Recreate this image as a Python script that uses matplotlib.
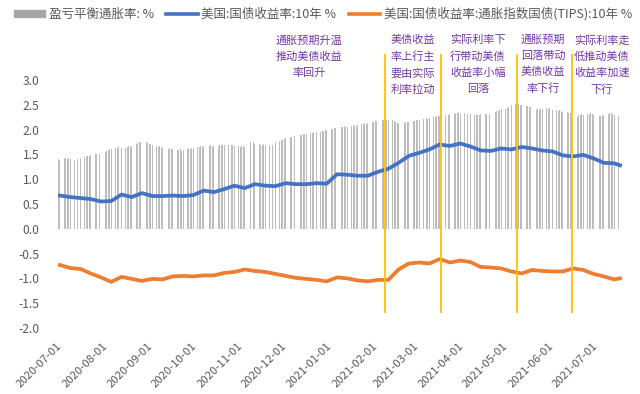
import numpy as np
import pandas as pd
import matplotlib
matplotlib.use("Agg")
import matplotlib.pyplot as plt
from matplotlib.patches import Patch
from matplotlib.lines import Line2D

plt.rcParams['font.family'] = ['Noto Sans CJK SC', 'DejaVu Sans']

# breakeven inflation, daily (business days 2020-07-01 .. 2021-07-20), one row per week
breakeven_weeks = [
    [1.38, 1.40, 1.39],
    [1.42, 1.43, 1.41, 1.42, 1.41],
    [1.39, 1.40, 1.41, 1.40, 1.42],
    [1.44, 1.46, 1.47, 1.46, 1.48],
    [1.50, 1.51, 1.52, 1.51, 1.53],
    [1.55, 1.57, 1.59, 1.60, 1.61],
    [1.62, 1.63, 1.64, 1.63, 1.62],
    [1.63, 1.64, 1.66, 1.65, 1.67],
    [1.70, 1.72, 1.75, 1.76, 1.73],
    [1.74, 1.72, 1.71, 1.70, 1.68],
    [1.66, 1.65, 1.66, 1.64, 1.63],
    [1.62, 1.61, 1.62, 1.60, 1.61],
    [1.59, 1.58, 1.60, 1.57, 1.59],
    [1.60, 1.62, 1.61, 1.63, 1.62],
    [1.64, 1.65, 1.66, 1.65, 1.66],
    [1.66, 1.67, 1.68, 1.67, 1.66],
    [1.67, 1.69, 1.68, 1.69, 1.68],
    [1.68, 1.67, 1.69, 1.68, 1.67],
    [1.66, 1.65, 1.67, 1.66, 1.64],
    [1.72, 1.74, 1.73, 1.74, 1.71],
    [1.70, 1.69, 1.68, 1.70, 1.69],
    [1.67, 1.68, 1.69, 1.71, 1.74],
    [1.77, 1.79, 1.80, 1.81, 1.83],
    [1.85, 1.86, 1.87, 1.88, 1.89],
    [1.89, 1.90, 1.91, 1.92, 1.91],
    [1.93, 1.94, 1.95, 1.94, 1.95],
    [1.96, 1.97, 1.98, 1.99, 2.00],
    [2.01, 2.02, 2.03, 2.04, 2.03],
    [2.05, 2.06, 2.05, 2.07, 2.06],
    [2.07, 2.08, 2.09, 2.08, 2.10],
    [2.11, 2.12, 2.13, 2.12, 2.14],
    [2.15, 2.16, 2.17, 2.18, 2.17],
    [2.19, 2.20, 2.21, 2.20, 2.19],
    [2.20, 2.18, 2.16, 2.14, 2.13],
    [2.14, 2.15, 2.14, 2.16, 2.15],
    [2.17, 2.18, 2.19, 2.20, 2.19],
    [2.21, 2.22, 2.23, 2.22, 2.24],
    [2.25, 2.26, 2.28, 2.27, 2.28],
    [2.29, 2.30, 2.31, 2.30, 2.31],
    [2.32, 2.33, 2.34, 2.33, 2.32],
    [2.33, 2.32, 2.31, 2.32, 2.31],
    [2.30, 2.31, 2.29, 2.30, 2.31],
    [2.31, 2.32, 2.33, 2.32, 2.34],
    [2.35, 2.37, 2.38, 2.39, 2.41],
    [2.42, 2.44, 2.46, 2.47, 2.49],
    [2.51, 2.53, 2.52, 2.50, 2.49],
    [2.48, 2.47, 2.46, 2.45, 2.44],
    [2.42, 2.41, 2.40, 2.42, 2.41],
    [2.43, 2.42, 2.43, 2.41, 2.40],
    [2.39, 2.38, 2.39, 2.37, 2.36],
    [2.35, 2.34, 2.33, 2.22, 2.21],
    [2.26, 2.29, 2.30, 2.31, 2.30],
    [2.31, 2.32, 2.33, 2.31, 2.30],
    [2.29, 2.27, 2.28, 2.27, 2.29],
    [2.31, 2.33, 2.34, 2.32, 2.30],
    [2.27, 2.26],
]

# weekly (Friday) readings of the two yields, plus the last day
line_dates = list(pd.date_range('2020-07-03', '2021-07-16', freq='7D')) + [pd.Timestamp('2021-07-20')]
ust10y = [0.67, 0.64, 0.62, 0.60, 0.55, 0.56, 0.69, 0.64, 0.72, 0.66,
          0.66, 0.67, 0.66, 0.68, 0.77, 0.74, 0.80, 0.87, 0.82, 0.90,
          0.87, 0.86, 0.92, 0.90, 0.90, 0.92, 0.91, 1.10, 1.09, 1.07,
          1.07, 1.15, 1.21, 1.33, 1.47, 1.53, 1.60, 1.70, 1.67, 1.72,
          1.66, 1.58, 1.57, 1.62, 1.60, 1.65, 1.62, 1.58, 1.56, 1.48,
          1.46, 1.49, 1.42, 1.33, 1.32, 1.28]
tips10y = [-0.73, -0.79, -0.81, -0.90, -0.98, -1.07, -0.97, -1.01, -1.05, -1.01,
           -1.02, -0.96, -0.95, -0.96, -0.94, -0.94, -0.89, -0.87, -0.82, -0.85,
           -0.87, -0.91, -0.95, -0.99, -1.01, -1.03, -1.06, -0.98, -1.00, -1.04,
           -1.06, -1.03, -1.03, -0.82, -0.70, -0.68, -0.70, -0.61, -0.68, -0.64,
           -0.67, -0.77, -0.78, -0.80, -0.86, -0.90, -0.83, -0.85, -0.86, -0.86,
           -0.80, -0.83, -0.91, -0.96, -1.02, -1.00]

event_dates = ['2021-02-10', '2021-03-20', '2021-05-11', '2021-06-17']
notes = ['通胀预期升温\n推动美债收益\n率回升',
         '美债收益\n率上行主\n要由实际\n利率拉动',
         '实际利率下\n行带动美债\n收益率小幅\n回落',
         '通胀预期\n回落带动\n美债收益\n率下行',
         '实际利率走\n低推动美债\n收益率加速\n下行']
tick_dates = pd.date_range('2020-07-01', '2021-07-01', freq='MS')
legend_labels = ['盈亏平衡通胀率: %', '美国:国债收益率:10年 %',
                 '美国:国债收益率:通胀指数国债(TIPS):10年 %']

bdays = pd.bdate_range('2020-07-01', '2021-07-20')
breakeven = [v for wk in breakeven_weeks for v in wk]

fig = plt.figure(figsize=(6.4, 3.94), dpi=100)
ax = fig.add_axes([52 / 640, 66 / 394, 575 / 640, 248 / 394])

start = pd.Timestamp('2020-07-01')
ax.bar(bdays, breakeven, width=0.6, color='#BDBDBD', zorder=1)
ax.plot(line_dates, ust10y, color='#4472C4', lw=2.7, zorder=3)
ax.plot(line_dates, tips10y, color='#ED7D31', lw=2.7, zorder=3)

for d in event_dates:
    ax.plot([pd.Timestamp(d)] * 2, [-1.67, 3.5], color='#FFC000', lw=1.3,
            clip_on=False, zorder=4)

ax.set_xlim(start - pd.Timedelta(days=3.4), start + pd.Timedelta(days=388.8))
ax.set_ylim(-2, 3)
yt = np.arange(-2, 3.01, 0.5)
ax.set_yticks(yt)
ax.set_yticklabels([f'{v:.1f}' for v in yt], fontsize=8.7, color='#595959')

ax.set_xticks(tick_dates)
ax.set_xticklabels([d.strftime('%Y-%m-%d') for d in tick_dates], rotation=45,
                   ha='right', rotation_mode='anchor', fontsize=8.2, color='#595959')
ax.tick_params(axis='x', length=0, pad=9)
ax.tick_params(axis='y', length=0, pad=9)
for s in ax.spines.values():
    s.set_visible(False)

note_x = [309, 413, 478, 543, 602]
for x, t in zip(note_x, notes):
    fig.text(x / 640, 1 - 35 / 394, t, ha='center', va='top', fontsize=8,
             color='#7438A8', linespacing=1.7)

handles = [Patch(color='#A6A6A6'),
           Line2D([], [], color='#4472C4', lw=2.6),
           Line2D([], [], color='#ED7D31', lw=2.6)]
fig.legend(handles, legend_labels, loc='upper center', bbox_to_anchor=(323 / 640, 1.01),
           ncol=3, frameon=False, fontsize=9, handlelength=2.5, handleheight=0.55,
           columnspacing=1.0, handletextpad=0.3, labelcolor='#595959')

fig.savefig('out.png', dpi=100)
